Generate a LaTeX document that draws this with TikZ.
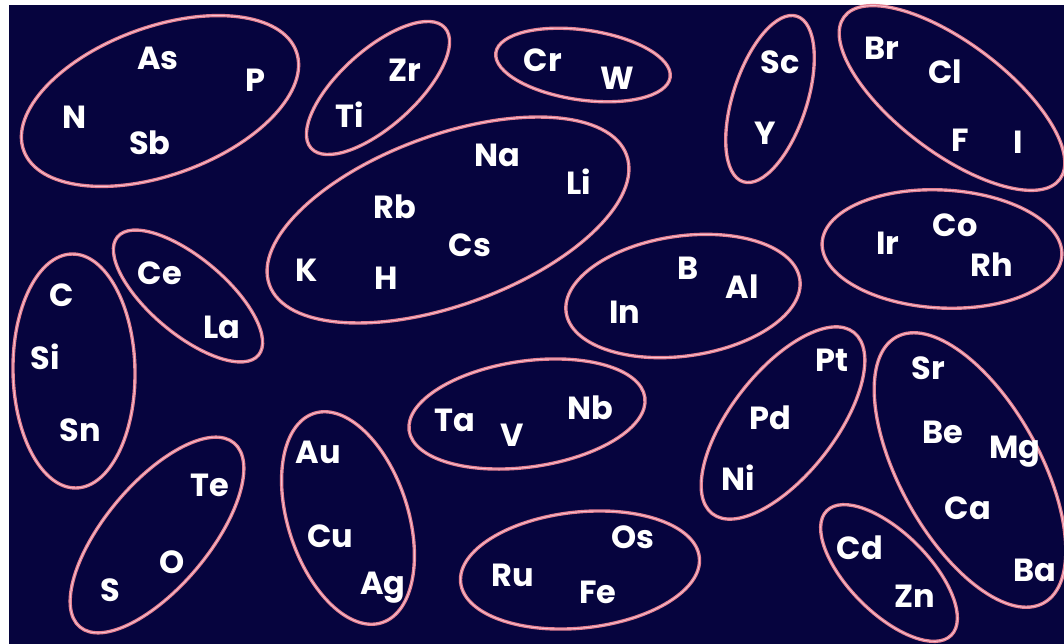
\documentclass[tikz,border=0pt]{standalone}
\usepackage{fontspec}
\setmainfont{Poppins}
\definecolor{bgnavy}{RGB}{6,4,62}
\definecolor{ringpink}{RGB}{228,128,145}
\definecolor{ringlight}{RGB}{246,195,210}
\begin{document}
\begin{tikzpicture}[x=1pt,y=-1pt,
  grp/.style={draw=ringpink,line width=3.4pt},
  grpin/.style={draw=ringlight,line width=0.9pt},
  el/.style={text=white,font=\fontsize{32}{32}\selectfont\bfseries,inner sep=0pt}]
\useasboundingbox (0,0) rectangle (1064,644);
\fill[white] (0,0) rectangle (1064,644);
\fill[bgnavy] (9,5) rectangle (1064,644);
\foreach \cx/\cy/\ang/\a/\b in {
  160/101/20/145/74,
  378/88/42/90/38,
  583/65/-8/88/35,
  770/99/72/87/37,
  952/98/-37/135/55,
  448/220/20/190/85,
  188/296/-40/92/38,
  74/371/91/117/61,
  683/296/8/118/60,
  942/249/-3/120/59,
  527/414/8/119/53,
  783/423/52/115/52,
  970/470/-61/152/70,
  889/573/-45/88/40,
  157/535/50/120/52,
  348/518/-72/110/60,
  580/570/6/120/58}
{
  \draw[grp,rotate around={\ang:(\cx,\cy)}] (\cx,\cy) ellipse [x radius=\a pt,y radius=\b pt];
  \draw[grpin,rotate around={\ang:(\cx,\cy)}] (\cx,\cy) ellipse [x radius=\a pt,y radius=\b pt];
}
\node[el] (As) at (158,58) {As};
\node[el] (P) at (255,80) {P};
\node[el] (N) at (75,117) {N};
\node[el] (Sb) at (150,143) {Sb};
\node[el] (Zr) at (405,70) {Zr};
\node[el] (Ti) at (350,115) {Ti};
\node[el] (Cr) at (543,60) {Cr};
\node[el] (W) at (617,78) {W};
\node[el] (Sc) at (780,62) {Sc};
\node[el] (Y) at (765,133) {Y};
\node[el] (Br) at (882,48) {Br};
\node[el] (Cl) at (945,72) {Cl};
\node[el] (F) at (960,140) {F};
\node[el] (I) at (1018,142) {I};
\node[el] (Na) at (497,155) {Na};
\node[el] (Li) at (579,182) {Li};
\node[el] (Rb) at (395,207) {Rb};
\node[el] (Cs) at (470,245) {Cs};
\node[el] (K) at (307,270) {K};
\node[el] (H) at (386,278) {H};
\node[el] (Ce) at (160,273) {Ce};
\node[el] (La) at (222,327) {La};
\node[el] (C) at (62,295) {C};
\node[el] (Si) at (45,357) {Si};
\node[el] (Sn) at (80,430) {Sn};
\node[el] (B) at (688,268) {B};
\node[el] (Al) at (742,287) {Al};
\node[el] (In) at (625,312) {In};
\node[el] (Ir) at (888,243) {Ir};
\node[el] (Co) at (955,225) {Co};
\node[el] (Rh) at (992,265) {Rh};
\node[el] (Ta) at (455,420) {Ta};
\node[el] (V) at (512,435) {V};
\node[el] (Nb) at (590,408) {Nb};
\node[el] (Pt) at (832,360) {Pt};
\node[el] (Pd) at (770,418) {Pd};
\node[el] (Ni) at (738,478) {Ni};
\node[el] (Sr) at (928,368) {Sr};
\node[el] (Be) at (943,432) {Be};
\node[el] (Mg) at (1015,452) {Mg};
\node[el] (Ca) at (968,508) {Ca};
\node[el] (Ba) at (1035,570) {Ba};
\node[el] (Cd) at (860,548) {Cd};
\node[el] (Zn) at (915,596) {Zn};
\node[el] (Te) at (210,485) {Te};
\node[el] (O) at (172,562) {O};
\node[el] (S) at (110,590) {S};
\node[el] (Au) at (318,452) {Au};
\node[el] (Cu) at (330,536) {Cu};
\node[el] (Ag) at (383,588) {Ag};
\node[el] (Os) at (633,537) {Os};
\node[el] (Ru) at (513,575) {Ru};
\node[el] (Fe) at (598,592) {Fe};
\end{tikzpicture}
\end{document}
